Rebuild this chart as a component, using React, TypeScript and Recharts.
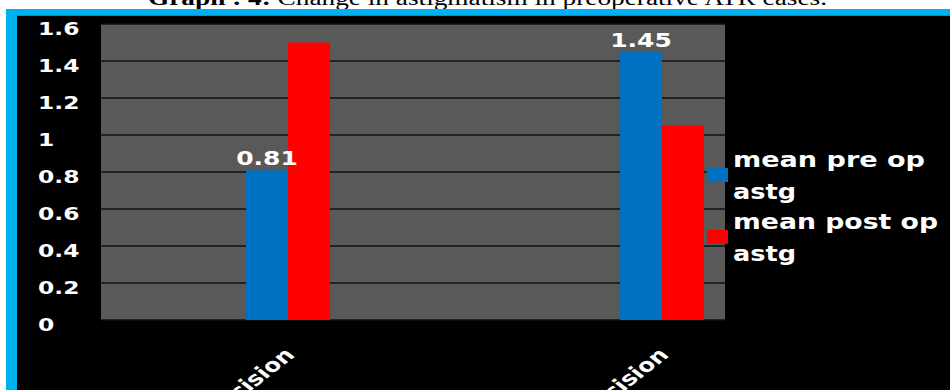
import React from 'react';
import { BarChart, Bar, XAxis, YAxis, CartesianGrid, Legend, LabelList } from 'recharts';

const categories = ['Superior incision', 'Temporal incision'];
const preOpAstg = [0.81, 1.45];
const postOpAstg = [1.5, 1.05];
const yTicks = [0, 0.2, 0.4, 0.6, 0.8, 1, 1.2, 1.4, 1.6];
const seriesNames = ['mean pre op astg', 'mean post op astg'];
const legendLines = [
  ['mean pre op', 'astg'],
  ['mean post op', 'astg'],
];

const data = categories.map((name, i) => ({ name, pre: preOpAstg[i], post: postOpAstg[i] }));

const BLUE = '#0070C0';
const RED = '#FF0000';
const seriesColors = [BLUE, RED];
const CYAN = '#00B0F0';
const SANS = '"DejaVu Sans", Verdana, sans-serif';
const SERIF = '"Liberation Serif", "Times New Roman", serif';
const STRETCH = 1.3;

const YTick = (props: any) => {
  const { y, payload } = props;
  return (
    <text
      transform={`translate(38, ${y + 10.5}) scale(${STRETCH},1)`}
      fill="#fff"
      fontFamily={SANS}
      fontWeight="bold"
      fontSize={18}
    >
      {payload.value}
    </text>
  );
};

const XTick = (props: any) => {
  const { x, y, payload } = props;
  return (
    <text
      transform={`translate(${x + 8}, ${y + 36}) scale(${STRETCH},1) rotate(-45)`}
      textAnchor="end"
      fill="#fff"
      fontFamily={SANS}
      fontWeight="bold"
      fontSize={19}
    >
      {payload.value}
    </text>
  );
};

const ValueLabel = (props: any) => {
  const { x, y, width, value } = props;
  return (
    <text
      transform={`translate(${x + width / 2}, ${y - 5}) scale(1.25,1)`}
      textAnchor="middle"
      fill="#fff"
      fontFamily={SANS}
      fontWeight="bold"
      fontSize={20}
    >
      {value}
    </text>
  );
};

const legendWidths = [
  [192, 63],
  [205, 63],
];

// Legend drawn from the series list so swatch colours follow the bars
const LegendBox = () => (
  <svg width={250} height={135} style={{ display: 'block', overflow: 'visible' }}>
    {seriesNames.map((name, i) => {
      const top = i * 62;
      return (
        <g key={name}>
          <rect x={7} y={top + 28} width={21} height={14} fill={seriesColors[i]} />
          {legendLines[i].map((line, j) => (
            <text
              key={j}
              x={33}
              y={top + 27 + j * 32}
              fill="#fff"
              fontFamily={SANS}
              fontWeight="bold"
              fontSize={21}
              textLength={legendWidths[i][j]}
              lengthAdjust="spacingAndGlyphs"
            >
              {line}
            </text>
          ))}
        </g>
      );
    })}
  </svg>
);

export default function App() {
  return (
    <div
      style={{
        position: 'absolute',
        left: 0,
        top: 0,
        width: 950,
        height: 390,
        background: '#fff',
        overflow: 'hidden',
      }}
    >
      <svg width={950} height={16} style={{ position: 'absolute', left: 0, top: 0 }}>
        <text
          x={148}
          y={5}
          fontFamily={SERIF}
          fontSize={20}
          fill="#000"
          textLength={679}
          lengthAdjust="spacingAndGlyphs"
        >
          <tspan fontWeight="bold">Graph : 4:</tspan>
          <tspan> Change in astigmatism in preoperative ATR cases.</tspan>
        </text>
      </svg>
      <div style={{ position: 'absolute', left: 6, top: 9, width: 944, height: 7, background: CYAN }} />
      <div style={{ position: 'absolute', left: 6, top: 9, width: 11, height: 381, background: CYAN }} />
      <div style={{ position: 'absolute', left: 17, top: 15, width: 933, height: 1, background: '#0a8fc4' }} />
      <div style={{ position: 'absolute', left: 17, top: 16, width: 933, height: 374, background: '#000' }} />
      <div style={{ position: 'absolute', left: 0, top: 0 }}>
        <BarChart
          width={950}
          height={390}
          data={data}
          margin={{ top: 24, right: 101, bottom: 0, left: 21 }}
          barGap={0}
          barSize={42}
        >
          <CartesianGrid
            vertical={false}
            horizontal
            fill="#595959"
            fillOpacity={1}
            stroke="#111"
            strokeWidth={1.5}
          />
          <XAxis
            dataKey="name"
            height={70}
            axisLine={false}
            tickLine={false}
            tickSize={0}
            tickMargin={0}
            interval={0}
            tick={<XTick />}
          />
          <YAxis
            width={80}
            domain={[0, 1.6]}
            ticks={yTicks}
            axisLine={false}
            tickLine={false}
            interval={0}
            tick={<YTick />}
          />
          <Legend
            layout="horizontal"
            align="center"
            verticalAlign="middle"
            content={<LegendBox />}
            wrapperStyle={{ position: 'absolute', left: 700, top: 140, width: 250, height: 135, zIndex: 3 }}
          />
          <Bar dataKey="pre" name={seriesNames[0]} fill={BLUE} isAnimationActive={false}>
            <LabelList dataKey="pre" content={<ValueLabel />} />
          </Bar>
          <Bar dataKey="post" name={seriesNames[1]} fill={RED} isAnimationActive={false} />
        </BarChart>
      </div>
      <div style={{ position: 'absolute', left: 725, top: 16, width: 225, height: 374, background: '#000', zIndex: 2 }} />
    </div>
  );
}
